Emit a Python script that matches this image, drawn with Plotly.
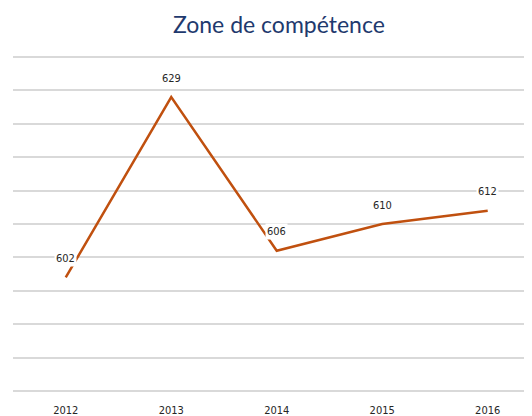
import plotly.graph_objects as go

years = ["2012", "2013", "2014", "2015", "2016"]
values = [602, 629, 606, 610, 612]

fig = go.Figure()
fig.add_trace(go.Scatter(
    x=years, y=values, mode="lines",
    line=dict(color="#C0500F", width=2.5),
    hoverinfo="skip",
))

# data labels with white background; category index used because
# numeric-looking strings get read as indexes by annotations
for i, v in enumerate(values):
    fig.add_annotation(
        x=i, y=v, text=str(v), showarrow=False,
        yshift=19, bgcolor="white", borderpad=1,
        font=dict(family="DejaVu Sans Condensed", size=11, color="#262626"),
    )

# page body has an 8px margin, so the figure is a bit smaller than the window
fig.update_layout(
    width=524, height=408,
    paper_bgcolor="white", plot_bgcolor="white",
    margin=dict(l=5, r=0, t=47, b=23, autoexpand=False),
    showlegend=False,
    title=dict(
        text="Zone de compétence",
        x=0.517, xanchor="center", y=1 - 17 / 408, yanchor="middle", yref="container",
        font=dict(family="Lato", size=23, color="#1F3A6E"),
    ),
)
fig.update_xaxes(
    type="category", range=[-0.5, 4.42],
    showgrid=False, zeroline=False, showline=False,
    ticks="outside", ticklen=7, tickcolor="rgba(0,0,0,0)",
    automargin=False,
    tickfont=dict(family="DejaVu Sans Condensed", size=11, color="#262626"),
)
# range padded a little so the top and bottom gridlines are drawn
fig.update_yaxes(
    range=[584.7, 635.3], dtick=5, showticklabels=False,
    showgrid=True, gridcolor="#D9D9D9", gridwidth=1.5,
    zeroline=False, showline=False, automargin=False,
)

fig.write_html("out.html")
